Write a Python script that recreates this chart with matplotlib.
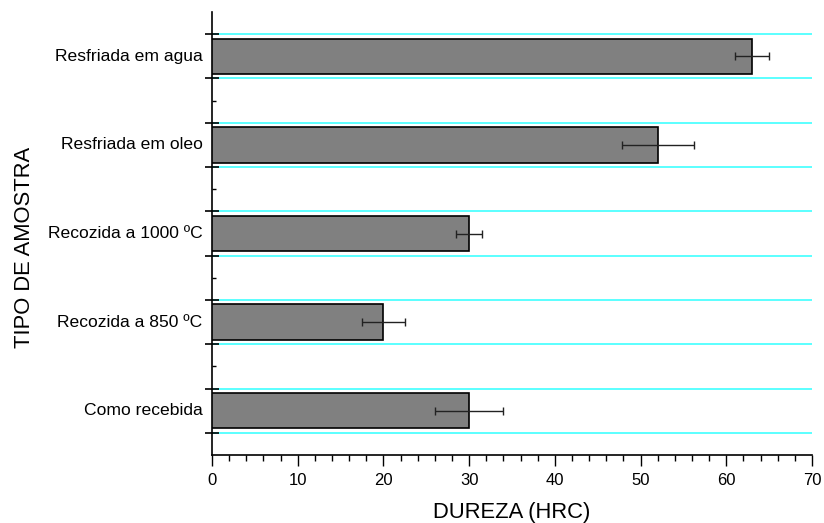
import numpy as np
import matplotlib.pyplot as plt
from matplotlib.ticker import MultipleLocator, FixedLocator
import matplotlib.transforms as mtransforms

plt.rcParams['font.family'] = ['Liberation Sans', 'DejaVu Sans']

# Data (bottom to top)
categories = ['Como recebida', 'Recozida a 850 ºC', 'Recozida a 1000 ºC',
              'Resfriada em oleo', 'Resfriada em agua']
dureza = [30.0, 20.0, 30.0, 52.0, 63.0]
erro = [4.0, 2.5, 1.5, 4.2, 2.0]

pos = np.arange(1, len(categories) + 1)

fig = plt.figure(figsize=(8.24, 5.23), dpi=100)
ax = fig.add_axes([0.2573, 0.130, 0.7281, 0.847])

ax.barh(pos, dureza, height=0.4, color='#808080', edgecolor='black',
        linewidth=1.2, zorder=3)
ax.errorbar(dureza, pos, xerr=erro, fmt='none', ecolor='#222222',
            elinewidth=1.0, capsize=3, capthick=1.0, zorder=4)

ax.set_xlim(0, 70)
ax.set_ylim(0.5, len(categories) + 0.5)

# x axis ticks
ax.xaxis.set_major_locator(MultipleLocator(10))
ax.xaxis.set_minor_locator(MultipleLocator(2))
ax.tick_params(axis='x', which='major', direction='out', length=8, width=1,
               labelsize=12, pad=5)
ax.tick_params(axis='x', which='minor', direction='out', length=4, width=1)

# y axis: ticks at bar boundaries, cyan gridlines there
edges = sorted(list(pos - 0.25) + list(pos + 0.25))
ax.yaxis.set_major_locator(FixedLocator(edges))
ax.yaxis.set_minor_locator(FixedLocator(pos[:-1] + 0.5))
ax.set_yticklabels([])
ax.tick_params(axis='y', which='major', direction='inout', length=10, width=1.2)
ax.tick_params(axis='y', which='minor', direction='in', length=3, width=1)
ax.grid(axis='y', which='major', color='#40ffff', linewidth=1.2, zorder=0)

trans = mtransforms.blended_transform_factory(ax.transAxes, ax.transData)
for p, c in zip(pos, categories):
    ax.text(-0.016, p, c, transform=trans, ha='right', va='center', fontsize=12.6)

for s in ['top', 'right']:
    ax.spines[s].set_visible(False)
for s in ['left', 'bottom']:
    ax.spines[s].set_linewidth(1.2)

ax.set_xlabel('DUREZA (HRC)', fontsize=15.8, labelpad=10)
fig.text(0.030, 0.526, 'TIPO DE AMOSTRA', rotation=90, ha='center',
         va='center', fontsize=15.8)

fig.savefig('out.png', dpi=100)
